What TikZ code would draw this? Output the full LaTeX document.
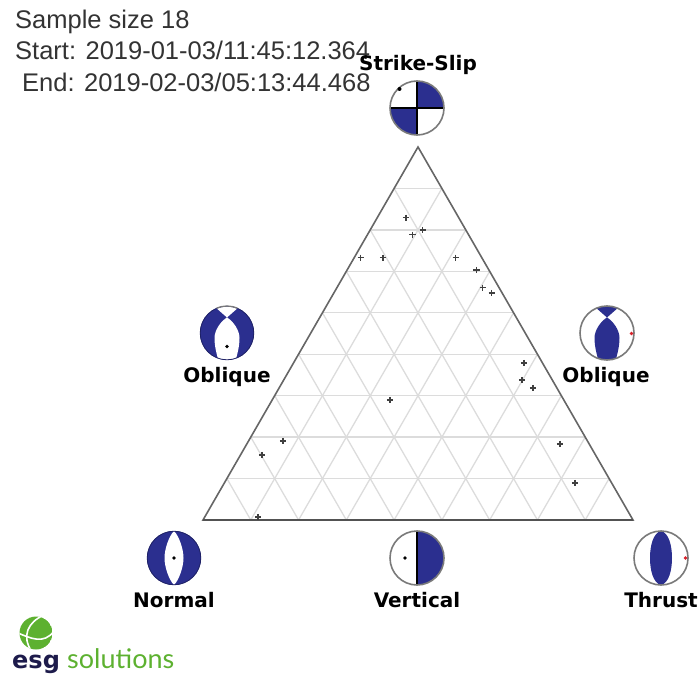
\documentclass[tikz,border=0pt]{standalone}
\usepackage{fontspec}
\setmainfont{Liberation Sans}
\newfontfamily\labelfont{DejaVu Sans}
\newfontfamily\logofont{Lato}
\usetikzlibrary{calc}
\definecolor{navyball}{HTML}{2B2F8F}
\definecolor{rimgray}{HTML}{7A7A7A}
\definecolor{gridgray}{HTML}{DCDCDC}
\definecolor{framegray}{HTML}{666666}
\definecolor{logogreen}{HTML}{5DB130}
\definecolor{logonavy}{HTML}{1D1B4B}
\definecolor{redmark}{HTML}{D8222A}
\tikzset{
  infotext/.style={font=\fontsize{25.5}{30}\selectfont, anchor=base west, inner sep=0pt, text=black!80},
  balllabel/.style={font=\labelfont\bfseries\fontsize{20}{24}\selectfont, anchor=base, inner sep=0pt, text=black},
  rim/.style={draw=rimgray, line width=1.6pt},
  navyfill/.style={fill=navyball},
  navyedge/.style={draw=navyball!70!black, line width=0.8pt},
  dotmark/.style={fill=black, draw=none},
  reddot/.style={fill=redmark, draw=none},
  crossmark/.style={draw=black!75, line width=1.3pt},
  gridline/.style={draw=gridgray, line width=1.3pt},
}
\newcommand{\plusmark}[2]{\draw[crossmark] (#1-3.2,#2)--(#1+3.2,#2) (#1,#2-3.2)--(#1,#2+3.2);}
\newcommand{\obliquepath}{(0,-15.5) .. controls (-6,-12) and (-12.5,-3) .. (-12.5,5) .. controls (-12.5,14) and (-10,22) .. (-8,30) -- (8,30) .. controls (10,22) and (12.5,14) .. (12.5,5) .. controls (12.5,-3) and (6,-12) .. (0,-15.5) -- cycle (0,-15.5) -- (-16.5,-30) -- (16.5,-30) -- cycle}
\begin{document}
\begin{tikzpicture}[x=1pt,y=-1pt]
\useasboundingbox (0,0) rectangle (699,674);
% triangle
\coordinate (A) at (418,147);
\coordinate (B) at (203,520);
\coordinate (C) at (633,520);
\foreach \k in {1,...,8}{
  \draw[gridline] ($(A)!\k/9!(B)$) -- ($(A)!\k/9!(C)$);
  \draw[gridline] ($(B)!\k/9!(A)$) -- ($(B)!\k/9!(C)$);
  \draw[gridline] ($(C)!\k/9!(A)$) -- ($(C)!\k/9!(B)$);
}
\draw[framegray,line width=1.6pt,line join=miter] (A) -- (B) -- (C) -- cycle;
\draw[framegray!80!black,line width=1.9pt] (B) -- (C);
% data points
\foreach \px/\py in {406/217.7,422.7/230,412.3/234.7,360.7/257.7,383/257.7,455.7/257.7,476.3/270,482.7/287.7,491.7/293,524/363,522/380,533/388,390/400,283/441,262/455,560/444,575/483,258/517}{
  \plusmark{\px}{\py}
}
% Strike-slip ball
\begin{scope}[shift={(417,108)}]
  \fill[white] (0,0) circle (27);
  \fill[navyfill] (0,0) -- (0,-27) arc (-90:0:27) -- cycle;
  \fill[navyfill] (0,0) -- (0,27) arc (90:180:27) -- cycle;
  \draw[black,line width=1.1pt] (0,-27) -- (0,27) (-27,0) -- (27,0);
  \draw[rim] (0,0) circle (27);
  \fill[dotmark] (-17.5,-19) circle (2);
\end{scope}
% Left oblique ball
\begin{scope}[shift={(227,333)}]
  \fill[navyfill] (0,0) circle (27);
  \begin{scope}
    \clip (0,0) circle (27);
    \fill[white] \obliquepath;
  \end{scope}
  \draw[navyedge] (0,0) circle (26.8);
  \draw[rim,line width=1.2pt] (-113:27) arc (-113:-67:27);
  \fill[dotmark] (0,13.5) circle (1.8);
\end{scope}
% Right oblique ball
\begin{scope}[shift={(607,333)}]
  \fill[white] (0,0) circle (27);
  \begin{scope}
    \clip (0,0) circle (27);
    \fill[navyfill] \obliquepath;
  \end{scope}
  \draw[rim] (0,0) circle (27);
  \fill[reddot] (24.5,0.5) circle (1.8);
\end{scope}
% Normal ball
\begin{scope}[shift={(174,558)}]
  \fill[navyfill] (0,0) circle (27);
  \fill[white] (0,-27) .. controls (-5,-22) and (-9.5,-9) .. (-9.5,0) .. controls (-9.5,9) and (-5,22) .. (0,27) .. controls (5,22) and (9.5,9) .. (9.5,0) .. controls (9.5,-9) and (5,-22) .. (0,-27) -- cycle;
  \draw[navyedge] (0,0) circle (26.8);
  \fill[dotmark] (0,0) circle (1.8);
\end{scope}
% Vertical ball
\begin{scope}[shift={(417,558)}]
  \fill[white] (0,0) circle (27);
  \fill[navyfill] (0,-27) arc (-90:90:27) -- cycle;
  \draw[black,line width=1.1pt] (0,-27) -- (0,27);
  \draw[rim] (0,0) circle (27);
  \fill[dotmark] (-12,0) circle (1.8);
\end{scope}
% Thrust ball
\begin{scope}[shift={(661,558)}]
  \fill[white] (0,0) circle (27);
  \fill[navyfill] (0,-27) .. controls (-8,-25) and (-11,-12) .. (-11,0) .. controls (-11,12) and (-8,25) .. (0,27) .. controls (8,25) and (11,12) .. (11,0) .. controls (11,-12) and (8,-25) .. (0,-27) -- cycle;
  \draw[rim] (0,0) circle (27);
  \fill[reddot] (24.5,0) circle (1.8);
\end{scope}
% info text
\node[infotext] (info1) at (15,29) {Sample size 18};
\node[infotext] (info2) at (15,60) {Start: 2019-01-03/11:45:12.364};
\node[infotext] (info3) at (22,91.5) {End: 2019-02-03/05:13:44.468};
% labels
\node[balllabel] (lstrike) at (418,71) {Strike-Slip};
\node[balllabel] (lobl) at (227,382) {Oblique};
\node[balllabel] (lobr) at (606,382) {Oblique};
\node[balllabel] (lnormal) at (174,607) {Normal};
\node[balllabel] (lvert) at (417,607) {Vertical};
\node[balllabel] (lthrust) at (661,607) {Thrust};
% logo
\begin{scope}
  \clip (36,633) circle (16.5);
  \fill[logogreen] (36,633) circle (16.5);
  \draw[white,line width=1.6pt] (44,615) .. controls (28,622) and (21,636) .. (32,652);
  \draw[white,line width=1.6pt] (18,633) .. controls (30,638) and (44,645) .. (54,631);
\end{scope}
\node[font=\labelfont\bfseries\fontsize{24}{28}\selectfont, text=logonavy, anchor=base west, inner sep=0pt] (logoa) at (12,668) {esg};
\node[font=\logofont\fontsize{27}{30}\selectfont, text=logogreen, anchor=base west, inner sep=0pt] (logob) at (67,668) {solutions};
\end{tikzpicture}
\end{document}
